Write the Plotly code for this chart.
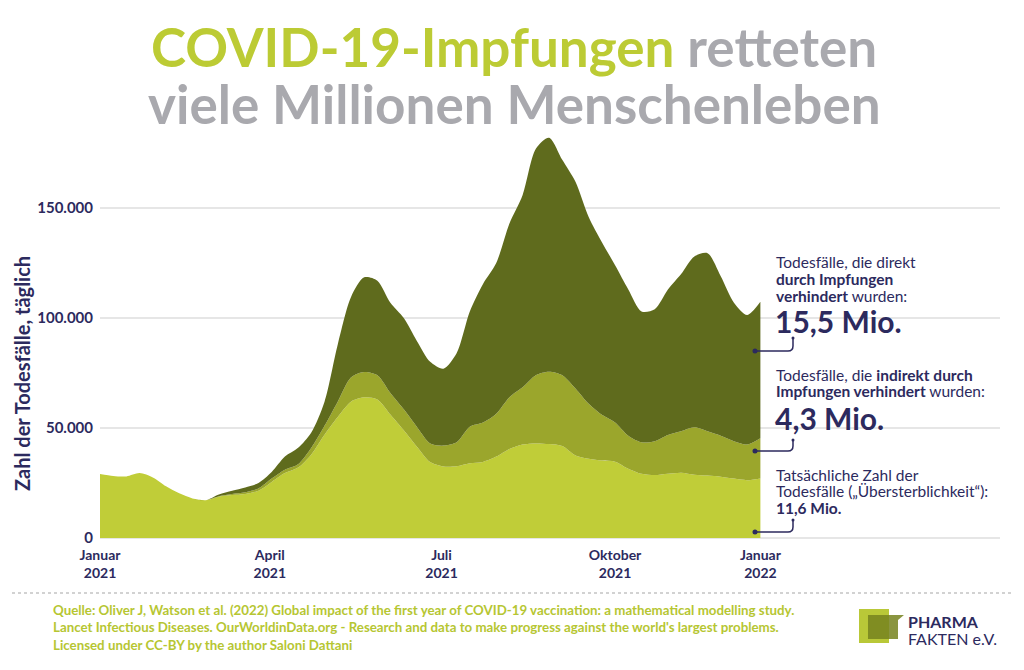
import pandas as pd
import plotly.graph_objects as go

# weekly samples starting 1 Jan 2021, daily deaths in thousands
weeks = pd.date_range("2021-01-01", periods=51, freq="7D")

actual = [29.1, 28.2, 28.0, 29.5, 27.5, 23.5, 20.3, 18.0, 17.2, 18.8,
          19.5, 20.0, 21.5, 25.5, 29.5, 32.0, 38.0, 47.0, 55.0, 62.0,
          64.0, 63.0, 56.0, 49.0, 41.5, 34.5, 32.5, 32.6, 34.0, 34.6,
          37.0, 40.5, 42.5, 43.0, 42.7, 41.8, 37.5, 36.0, 35.2, 34.7,
          31.5, 29.2, 28.6, 29.2, 29.7, 28.8, 28.4, 27.9, 27.0, 26.3, 27.1]

indirect = [0, 0, 0, 0, 0, 0, 0, 0, 0, 0.2,
            0.5, 0.8, 1.0, 1.5, 1.5, 1.5, 3.0, 4.0, 7.0, 11.0,
            11.5, 11.0, 9.8, 9.5, 9.0, 8.5, 9.5, 10.9, 16.6, 17.9,
            19.5, 23.5, 26.0, 31.0, 32.9, 32.2, 30.5, 25.0, 20.8, 17.8,
            15.0, 14.3, 15.4, 17.6, 18.8, 21.5, 20.1, 18.6, 17.0, 16.2, 18.2]

direct = [0, 0, 0, 0, 0, 0, 0, 0, 0, 0.8,
          1.5, 2.2, 2.5, 3.0, 6.0, 7.5, 7.0, 11.0, 26.0, 36.5,
          43.0, 43.0, 41.0, 41.5, 39.0, 37.1, 35.0, 40.5, 52.4, 63.0,
          68.5, 79.0, 87.5, 103.0, 106.4, 98.0, 94.0, 85.0, 78.5, 71.5,
          66.5, 59.5, 60.0, 66.2, 71.5, 77.7, 81.0, 72.5, 63.0, 58.9, 62.1]

tick_dates = ["2021-01-01", "2021-04-01", "2021-07-01", "2021-10-01", "2021-12-17"]
tick_labels = ["Januar<br>2021", "April<br>2021", "Juli<br>2021",
               "Oktober<br>2021", "Januar<br>2022"]

NAVY = "#2c2a5e"
LIME = "#bccb34"
GREY = "#a9a9ae"

# the page has an 8px body margin, so the figure is 8px smaller on each side;
# helpers take window pixel coords (plot area x 100..1000, y 130..538)
def px(x):
    return (x - 100) / 900

def py(y):
    return (538 - y) / 408

fig = go.Figure()
for vals, color, name in [(actual, "#c0cd38", "Tatsächlich"),
                          (indirect, "#9ba62c", "Indirekt verhindert"),
                          (direct, "#5f6b1d", "Direkt verhindert")]:
    fig.add_trace(go.Scatter(x=weeks, y=[v * 1000 for v in vals], name=name,
                             stackgroup="one", mode="lines",
                             line=dict(width=0, shape="spline", smoothing=0.8),
                             fillcolor=color, hoverinfo="skip"))

x_end = pd.Timestamp("2021-01-01") + pd.Timedelta(days=477)

fig.update_layout(
    width=1008, height=654,
    margin=dict(l=92, r=16, t=122, b=124),
    paper_bgcolor="white", plot_bgcolor="white",
    showlegend=False,
    separators=",.",
    font=dict(family="Lato", color=NAVY),
    xaxis=dict(range=["2021-01-01", x_end], tickvals=tick_dates, ticktext=tick_labels,
               showgrid=False, zeroline=False, showline=False, ticks="",
               ticklabelstandoff=7,
               tickfont=dict(family="Lato", size=14, color=NAVY, weight="bold")),
    yaxis=dict(range=[0, 185500], tickvals=[0, 50000, 100000, 150000], tickformat=",d",
               showgrid=True, gridcolor="#e6e6e6", gridwidth=1.5,
               zeroline=True, zerolinecolor="#e6e6e6", zerolinewidth=1.5,
               showline=False, ticks="", ticklabelstandoff=6,
               tickfont=dict(family="Lato", size=15, color=NAVY, weight="bold")),
)

ann = []
# title
ann.append(dict(text="<span style='color:%s'>COVID-19-Impfungen</span> retteten" % LIME,
                x=px(514), y=py(46), xanchor="center", yanchor="middle",
                font=dict(size=53, color=GREY, family="Lato", weight="bold")))
ann.append(dict(text="viele Millionen Menschenleben",
                x=px(514), y=py(103), xanchor="center", yanchor="middle",
                font=dict(size=53, color=GREY, family="Lato", weight="bold")))
# y axis title
ann.append(dict(text="Zahl der Todesfälle, täglich", textangle=-90,
                x=px(22), y=py(374), xanchor="center", yanchor="middle",
                font=dict(size=20, color=NAVY, family="Lato", weight="bold")))

# right side notes, one annotation per line
note_lines = [
    ("Todesfälle, die direkt", 262),
    ("<b>durch Impfungen</b>", 279),
    ("<b>verhindert</b> wurden:", 295.5),
    ("Todesfälle, die <b>indirekt durch</b>", 375),
    ("<b>Impfungen verhindert</b> wurden:", 391),
    ("Tatsächliche Zahl der", 474.5),
    ("Todesfälle („Übersterblichkeit“):", 491),
    ("<b>11,6 Mio.</b>", 507.5),
]
for txt, yy in note_lines:
    ann.append(dict(text=txt, x=px(774), y=py(yy), xanchor="left", yanchor="middle",
                    font=dict(size=15.5, color=NAVY, family="Lato")))
for txt, yy in [("15,5 Mio.", 321), ("4,3 Mio.", 418)]:
    ann.append(dict(text=txt, x=px(773), y=py(yy), xanchor="left", yanchor="middle",
                    font=dict(size=30, color=NAVY, family="Lato", weight="bold")))

# footer
ann.append(dict(text="Quelle: Oliver J, Watson et al. (2022) Global impact of the first year of COVID-19 vaccination: a mathematical modelling study.<br>"
                     "Lancet Infectious Diseases. OurWorldinData.org - Research and data to make progress against the world's largest problems.<br>"
                     "Licensed under CC-BY by the author Saloni Dattani",
                x=px(51), y=py(600), xanchor="left", yanchor="top", align="left",
                font=dict(size=13.3, color="#b6c632", family="Lato", weight="bold")))
# logo text
ann.append(dict(text="<b>PHARMA</b>", x=px(906), y=py(621), xanchor="left", yanchor="middle",
                font=dict(size=16, color=NAVY, family="Lato")))
ann.append(dict(text="FAKTEN e.V.", x=px(906), y=py(638), xanchor="left", yanchor="middle",
                font=dict(size=16, color=NAVY, family="Lato")))
for a in ann:
    a.update(xref="paper", yref="paper", showarrow=False)
fig.update_layout(annotations=ann)

shapes = []
# hooks linking notes to the stacked layers
for y0, y1 in [(351, 338), (451, 440), (532, 520)]:
    path = "M %f %f L %f %f Q %f %f %f %f L %f %f" % (
        px(755), py(y0), px(788), py(y0), px(793), py(y0), px(793), py(y0 - 5),
        px(793), py(y1))
    shapes.append(dict(type="path", path=path, line=dict(color=NAVY, width=1.5)))
    shapes.append(dict(type="circle", x0=px(752.5), x1=px(757.5), y0=py(y0 - 2.5), y1=py(y0 + 2.5),
                       fillcolor=NAVY, line=dict(width=0)))
    shapes.append(dict(type="circle", x0=px(791.5), x1=px(794.5), y0=py(y1 - 1.5), y1=py(y1 + 1.5),
                       fillcolor=NAVY, line=dict(width=0)))
# dotted separator
shapes.append(dict(type="line", x0=px(12), x1=px(1012), y0=py(593), y1=py(593),
                   line=dict(color="#c4c4c4", width=1.5, dash="dot")))
# logo squares
shapes.append(dict(type="rect", x0=px(859), x1=px(889), y0=py(609), y1=py(643),
                   fillcolor="#b9c838", line=dict(width=0)))
bubble = "M %f %f L %f %f L %f %f L %f %f L %f %f Z" % (
    px(868), py(615), px(904), py(615), px(898), py(620), px(898), py(639), px(868), py(639))
shapes.append(dict(type="path", path=bubble, fillcolor="#75821f", opacity=0.85, line=dict(width=0)))
for s in shapes:
    s.update(xref="paper", yref="paper")
fig.update_layout(shapes=shapes)

fig.write_html("out.html")
